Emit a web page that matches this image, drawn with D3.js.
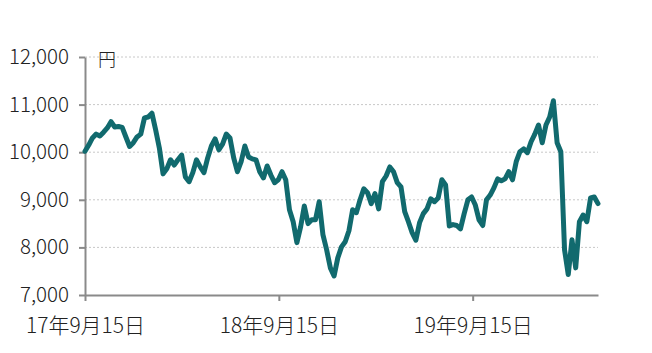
<!DOCTYPE html>
<html>
<head>
<meta charset="utf-8">
<script src="https://cdn.jsdelivr.net/npm/d3@7"></script>
<style>
  body { margin: 0; background: #fff; }
  svg text { font-family: "Noto Sans CJK JP", "DejaVu Sans", sans-serif; font-weight: 300; }
</style>
</head>
<body>
<svg id="chart" width="652" height="353"></svg>
<script>
// weekly NAV (yen), starting 2017-09-15
const startDate = "2017-09-15";
const navValues = [
  10020, 10150, 10300, 10380, 10340, 10420, 10510, 10640, 10530, 10540,
  10520, 10320, 10120, 10200, 10320, 10380, 10720, 10740, 10820, 10470,
  10090, 9545, 9650, 9840, 9730, 9840, 9940, 9480, 9380, 9570,
  9840, 9690, 9570, 9880, 10130, 10280, 10050, 10170, 10380, 10300,
  9880, 9590, 9800, 10130, 9900, 9860, 9840, 9590, 9460, 9710,
  9520, 9360, 9420, 9590, 9420, 8790, 8540, 8100, 8430, 8870,
  8500, 8580, 8580, 8960, 8270, 7950, 7570, 7400, 7780, 8010,
  8120, 8350, 8790, 8730, 9000, 9230, 9150, 8920, 9130, 8810,
  9380, 9500, 9690, 9590, 9360, 9270, 8750, 8540, 8310, 8150,
  8520, 8710, 8810, 9020, 8960, 9040, 9420, 9310, 8450, 8480,
  8460, 8390, 8710, 9000, 9060, 8890, 8580, 8460, 9000, 9100,
  9250, 9440, 9400, 9440, 9590, 9420, 9800, 10010, 10070, 9990,
  10220, 10380, 10570, 10200, 10570, 10740, 11080, 10200, 10010, 7950,
  7430, 8160, 7570, 8540, 8680, 8540, 9040, 9060, 8920
];
const yTicks = [7000, 8000, 9000, 10000, 11000, 12000];
const xTickDates = ["2017-09-15", "2018-09-15", "2019-09-15"];
const unitLabel = "円";

const width = 652, height = 353;
const margin = { top: 57, right: 54, bottom: 58, left: 85 };

const svg = d3.select("#chart");
const parse = d3.utcParse("%Y-%m-%d");
const t0 = parse(startDate);
const data = navValues.map((v, i) => ({ date: d3.utcDay.offset(t0, i * 7), value: v }));

const x = d3.scaleUtc()
    .domain(d3.extent(data, d => d.date))
    .range([margin.left, width - margin.right]);

const y = d3.scaleLinear()
    .domain([7000, 12000])
    .range([height - margin.bottom, margin.top]);

const axisColor = "#8a8a8a";
const textColor = "#222";

// gridlines
svg.append("g")
    .selectAll("line")
    .data(yTicks.slice(1))
    .join("line")
    .attr("x1", margin.left)
    .attr("x2", width - margin.right)
    .attr("y1", d => y(d))
    .attr("y2", d => y(d))
    .attr("stroke", "#c8c8c8")
    .attr("stroke-width", 1)
    .attr("stroke-dasharray", "2,2");

// y axis
svg.append("g")
    .attr("transform", `translate(${margin.left},0)`)
    .call(d3.axisLeft(y)
        .tickValues(yTicks)
        .tickFormat(d3.format(","))
        .tickSize(6)
        .tickSizeOuter(0)
        .tickPadding(10))
    .call(g => g.select(".domain").attr("stroke", axisColor).attr("stroke-width", 2))
    .call(g => g.selectAll(".tick line").attr("stroke", axisColor).attr("stroke-width", 2))
    .call(g => g.selectAll(".tick text")
        .attr("fill", textColor)
        .style("font-size", "20.5px"));

// x axis
const fmt = d => `${d3.utcFormat("%y")(d)}年${d.getUTCMonth() + 1}月${d.getUTCDate()}日`;
svg.append("g")
    .attr("transform", `translate(0,${height - margin.bottom})`)
    .call(d3.axisBottom(x)
        .tickValues(xTickDates.map(parse))
        .tickFormat(fmt)
        .tickSize(6)
        .tickSizeOuter(0)
        .tickPadding(17))
    .call(g => g.select(".domain").attr("stroke", axisColor).attr("stroke-width", 2))
    .call(g => g.selectAll(".tick line").attr("stroke", axisColor).attr("stroke-width", 2))
    .call(g => g.selectAll(".tick text")
        .attr("fill", textColor)
        .style("font-size", "21px"));

// line
svg.append("path")
    .datum(data)
    .attr("fill", "none")
    .attr("stroke", "#116a6e")
    .attr("stroke-width", 5)
    .attr("stroke-linejoin", "round")
    .attr("stroke-linecap", "round")
    .attr("d", d3.line().x(d => x(d.date)).y(d => y(d.value)));

// unit label
svg.append("text")
    .attr("x", margin.left + 13)
    .attr("y", margin.top + 9)
    .attr("fill", textColor)
    .style("font-size", "18px")
    .text(unitLabel);
</script>
</body>
</html>
